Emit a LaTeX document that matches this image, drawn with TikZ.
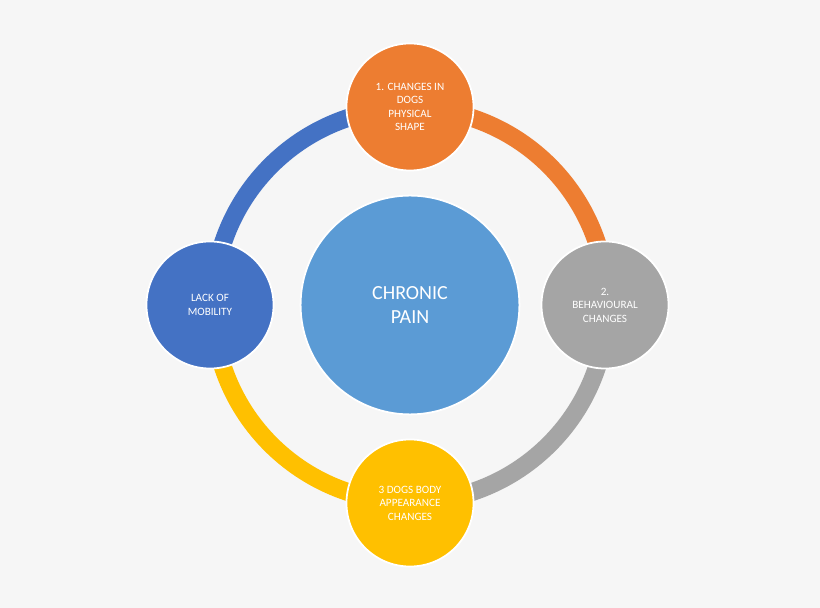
\documentclass[tikz,border=0pt]{standalone}
\usepackage{fontspec}
\setmainfont{Carlito}
\usetikzlibrary{positioning}
\definecolor{bgc}{HTML}{F6F6F6}
\definecolor{orng}{HTML}{ED7D31}
\definecolor{gry}{HTML}{A5A5A5}
\definecolor{ylw}{HTML}{FFC000}
\definecolor{blu}{HTML}{4472C4}
\definecolor{ctr}{HTML}{5B9BD5}
\tikzset{
    step node/.style={
        circle,
        draw=white,
        line width=1.5pt,
        minimum size=127\pgfunit,
        text=white,
        align=center,
        font=\fontsize{9.5}{11.5}\selectfont
    },
    ring arc/.style={line width=18\pgfunit}
}
\def\pgfunit{*0.85pt}
\begin{document}
\begin{tikzpicture}[x=0.85pt,y=0.85pt]
            \fill[bgc] (0,0) rectangle (820,608);
            \useasboundingbox (0,0) rectangle (820,608);
            % ring segments
            \draw[ring arc,orng] (410,303) ++(90:197) arc (90:0:197);
            \draw[ring arc,gry]  (410,303) ++(0:197) arc (0:-90:197);
            \draw[ring arc,ylw]  (410,303) ++(-90:197) arc (-90:-180:197);
            \draw[ring arc,blu]  (410,303) ++(180:197) arc (180:90:197);
            % circles
            \node[step node,fill=ctr,minimum size=186pt,font=\fontsize{17}{20}\selectfont] (pain) at (410,303) {CHRONIC\\PAIN};
            \node[step node,fill=orng,minimum size=108pt] (shape) at (410,501) {1. CHANGES IN\\DOGS\\PHYSICAL\\SHAPE};
            \node[step node,fill=gry,minimum size=108pt] (behav) at (605,303) {2.\\BEHAVIOURAL\\CHANGES};
            \node[step node,fill=ylw,minimum size=108pt] (body) at (410,105) {3 DOGS BODY\\APPEARANCE\\CHANGES};
            \node[step node,fill=blu,minimum size=108pt] (mob) at (210,303) {LACK OF\\MOBILITY};
\end{tikzpicture}
\end{document}
